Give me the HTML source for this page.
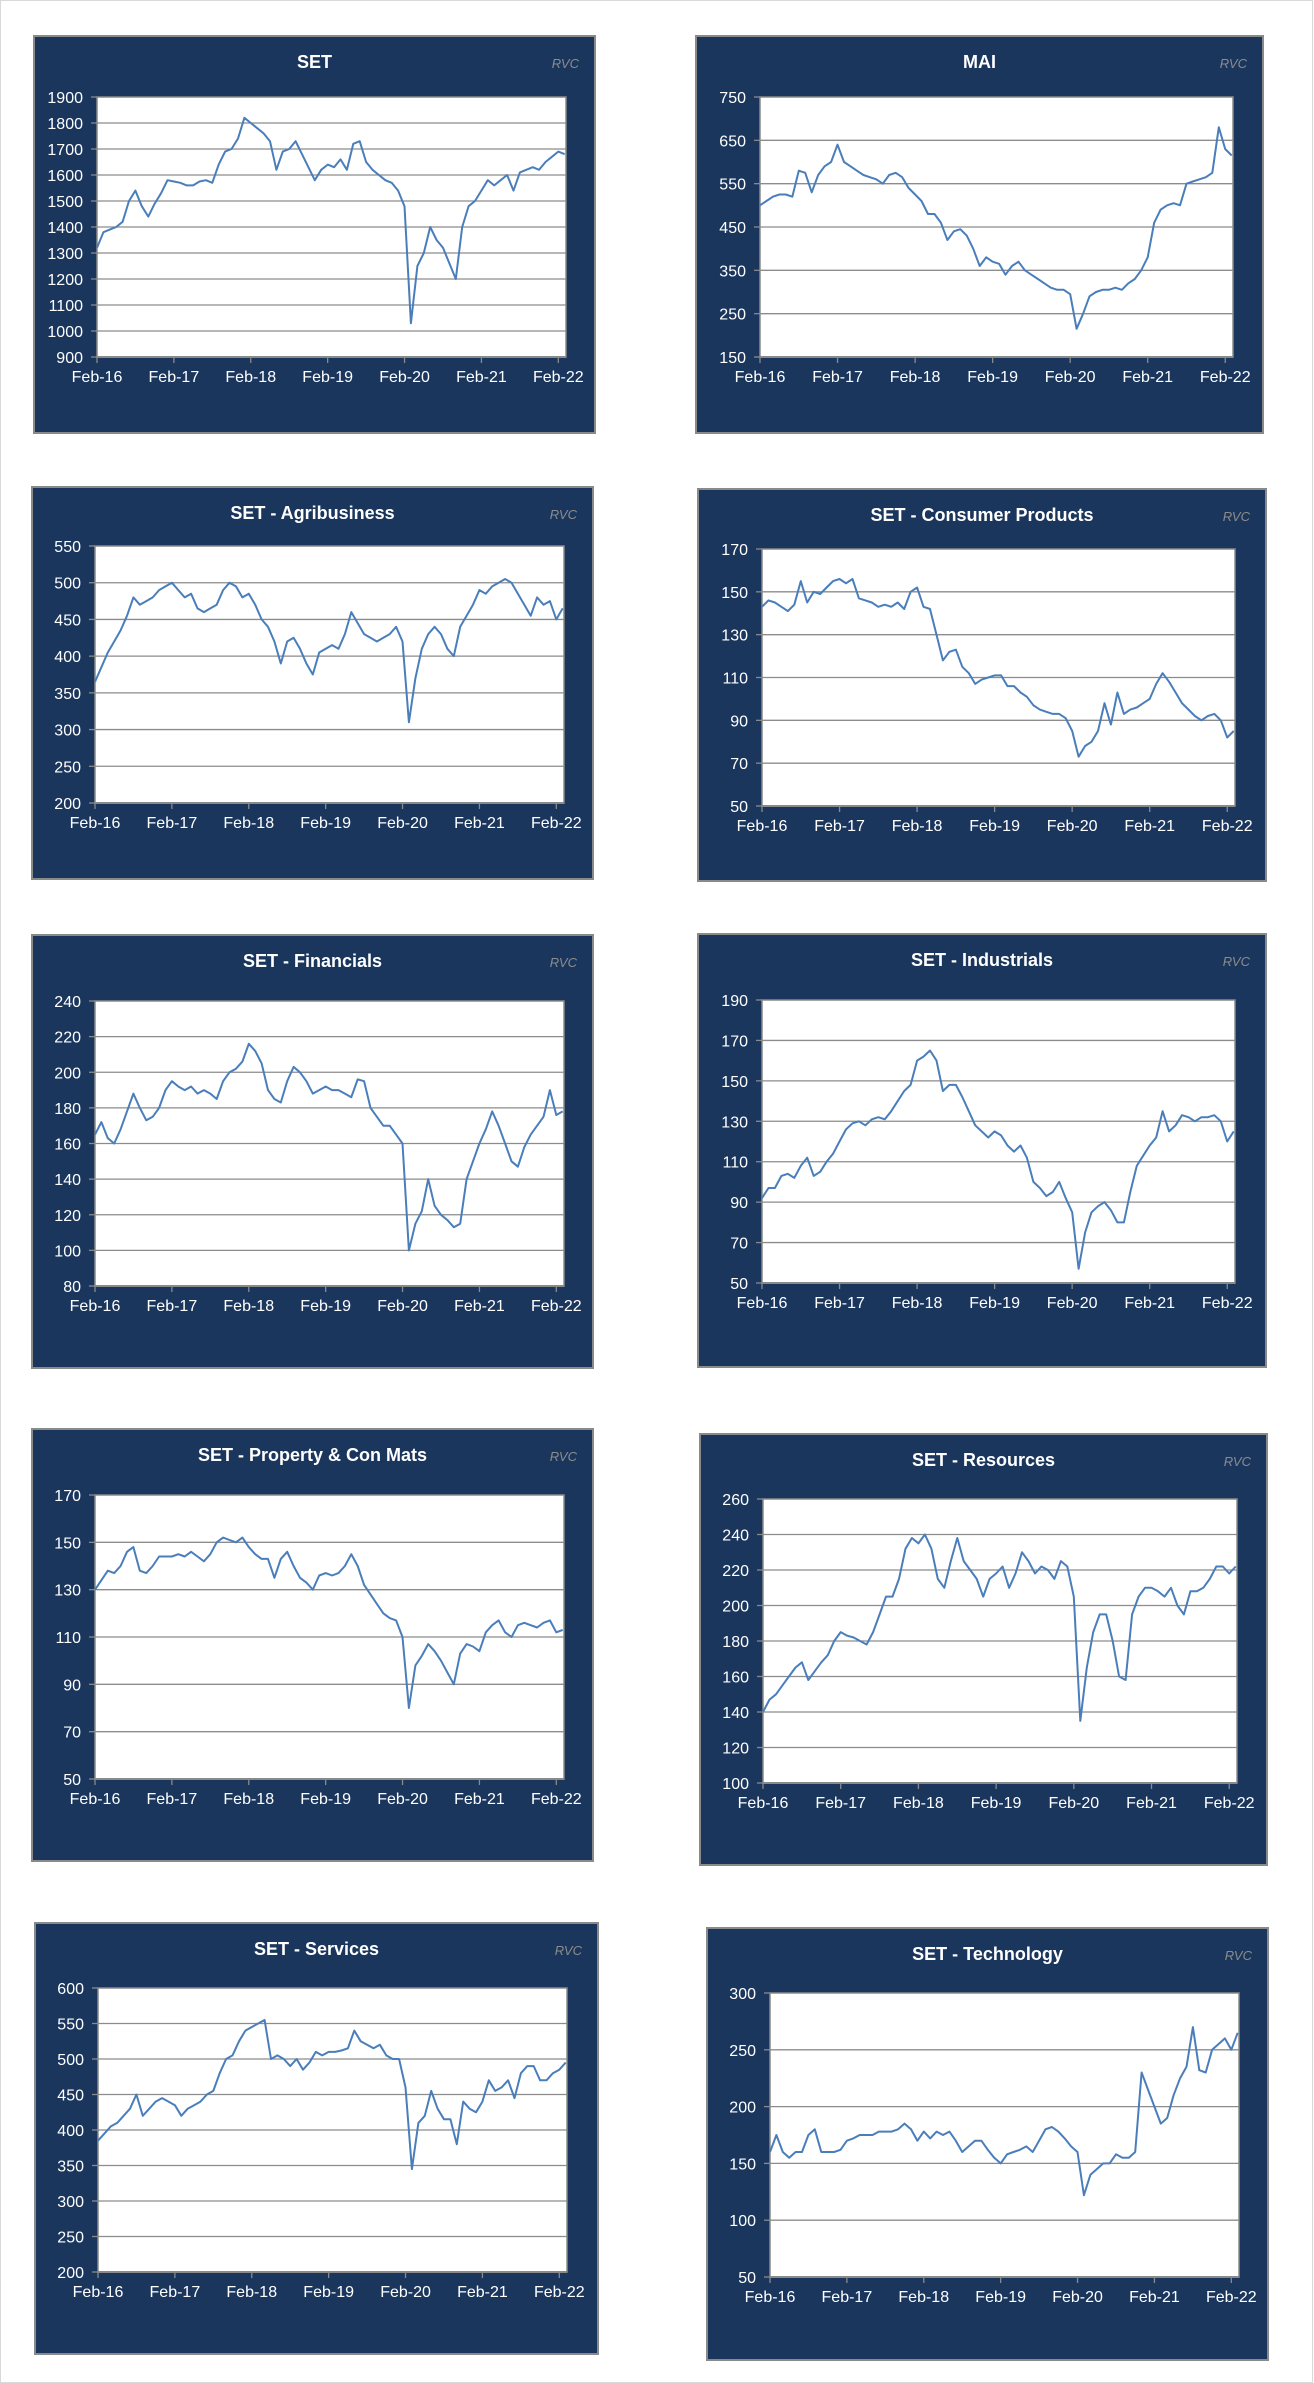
<!DOCTYPE html>
<html><head><meta charset="utf-8"><title>SET sector indices</title>
<style>
html,body{margin:0;padding:0;background:#fff;}
svg{display:block;font-family:"Liberation Sans",Arial,sans-serif;}
</style></head>
<body>
<svg id="page" width="1314" height="2383" viewBox="0 0 1314 2383" xmlns="http://www.w3.org/2000/svg">
<rect x="0.5" y="0.5" width="1312" height="2382" fill="#fff" stroke="#d9d9d9"/>
</svg>
<script>
// shared x categories: monthly from Feb-16 to Mar-22 (74 points)
const xTickLabels = ["Feb-16","Feb-17","Feb-18","Feb-19","Feb-20","Feb-21","Feb-22"];
const monthsCount = 74;

const setValues = [1320,1380,1390,1400,1420,1500,1540,1480,1440,1490,1530,
1580,1575,1570,1560,1560,1575,1580,1570,1640,1690,1700,1740,
1820,1800,1780,1760,1730,1620,1690,1700,1730,1680,1630,1580,
1620,1640,1630,1660,1620,1720,1730,1650,1620,1600,1580,1570,
1540,1480,1030,1250,1300,1400,1350,1320,1260,1200,1400,1480,
1500,1540,1580,1560,1580,1600,1540,1610,1620,1630,1620,1650,
1670,1690,1680];
const maiValues = [500,510,520,525,525,520,580,575,530,570,590,
600,640,600,590,580,570,565,560,550,570,575,565,
540,525,510,480,480,460,420,440,445,430,400,360,
380,370,365,340,360,370,350,340,330,320,310,305,
305,295,215,250,290,300,305,305,310,305,320,330,
350,380,460,490,500,505,500,550,555,560,565,575,
680,630,615];
const agriValues = [365,385,405,420,435,455,480,470,475,480,490,
495,500,490,480,485,465,460,465,470,490,500,495,
480,485,470,450,440,420,390,420,425,410,390,375,
405,410,415,410,430,460,445,430,425,420,425,430,
440,420,310,370,410,430,440,430,410,400,440,455,
470,490,485,495,500,505,500,485,470,455,480,470,
475,450,465];
const consumerValues = [143,146,145,143,141,144,155,145,150,149,152,
155,156,154,156,147,146,145,143,144,143,145,142,
150,152,143,142,130,118,122,123,115,112,107,109,
110,111,111,106,106,103,101,97,95,94,93,93,
91,85,73,78,80,85,98,88,103,93,95,96,
98,100,107,112,108,103,98,95,92,90,92,93,
90,82,85];
const financialsValues = [165,172,163,160,168,178,188,180,173,175,180,
190,195,192,190,192,188,190,188,185,195,200,202,
206,216,212,205,190,185,183,195,203,200,195,188,
190,192,190,190,188,186,196,195,180,175,170,170,
165,160,100,115,122,140,125,120,117,113,115,140,
150,160,168,178,170,160,150,147,158,165,170,175,
190,176,178];
const industrialsValues = [92,97,97,103,104,102,108,112,103,105,110,
114,120,126,129,130,128,131,132,131,135,140,145,
148,160,162,165,160,145,148,148,142,135,128,125,
122,125,123,118,115,118,112,100,97,93,95,100,
92,85,57,75,85,88,90,86,80,80,95,108,
113,118,122,135,125,128,133,132,130,132,132,133,
130,120,125];
const propertyValues = [130,134,138,137,140,146,148,138,137,140,144,
144,144,145,144,146,144,142,145,150,152,151,150,
152,148,145,143,143,135,143,146,140,135,133,130,
136,137,136,137,140,145,140,132,128,124,120,118,
117,110,80,98,102,107,104,100,95,90,103,107,
106,104,112,115,117,112,110,115,116,115,114,116,
117,112,113];
const resourcesValues = [140,147,150,155,160,165,168,158,163,168,172,
180,185,183,182,180,178,185,195,205,205,215,232,
238,235,240,232,215,210,225,238,225,220,215,205,
215,218,222,210,218,230,225,218,222,220,215,225,
222,205,135,165,185,195,195,180,160,158,195,205,
210,210,208,205,210,200,195,208,208,210,215,222,
222,218,222];
const servicesValues = [385,395,405,410,420,430,450,420,430,440,445,
440,435,420,430,435,440,450,455,480,500,505,525,
540,545,550,555,500,505,500,490,500,485,495,510,
505,510,510,512,515,540,525,520,515,520,505,500,
500,460,345,410,420,455,430,415,415,380,440,430,
425,440,470,455,460,470,445,480,490,490,470,470,
480,485,495];
const technologyValues = [160,175,160,155,160,160,175,180,160,160,160,
162,170,172,175,175,175,178,178,178,180,185,180,
170,178,172,178,175,178,170,160,165,170,170,162,
155,150,158,160,162,165,160,170,180,182,178,172,
165,160,122,140,145,150,150,158,155,155,160,230,
215,200,185,190,210,225,235,270,232,230,250,255,
260,250,265];

const setTicks = [900,1000,1100,1200,1300,1400,1500,1600,1700,1800,1900];
const maiTicks = [150,250,350,450,550,650,750];
const agriTicks = [200,250,300,350,400,450,500,550];
const consumerTicks = [50,70,90,110,130,150,170];
const financialsTicks = [80,100,120,140,160,180,200,220,240];
const industrialsTicks = [50,70,90,110,130,150,170,190];
const propertyTicks = [50,70,90,110,130,150,170];
const resourcesTicks = [100,120,140,160,180,200,220,240,260];
const servicesTicks = [200,250,300,350,400,450,500,550,600];
const technologyTicks = [50,100,150,200,250,300];

const NS = "http://www.w3.org/2000/svg";
const svg = document.getElementById("page");
function mk(tag, attrs, parent){
  const e = document.createElementNS(NS, tag);
  for (const k in attrs) e.setAttribute(k, attrs[k]);
  (parent||svg).appendChild(e);
  return e;
}

function drawChart(name, title, values, ticks, panel, plot){
  const g = mk("g", {});
  
  
  const bg = mk("rect", {x:panel[0], y:panel[1], width:panel[2]-panel[0], height:panel[3]-panel[1], fill:"#1a365d", stroke:"#8a8a8a", "stroke-width":2}, g);
  
  
  const cx = (panel[0]+panel[2])/2;
  const t = mk("text", {x:cx, y:panel[1]+32, fill:"#fff", "font-size":18, "font-weight":"bold", "text-anchor":"middle"}, g);
  t.textContent = title;
  
  
  const r = mk("text", {x:panel[2]-16, y:panel[1]+32, fill:"#8c8c8c", "font-size":13, "font-style":"italic", "text-anchor":"end"}, g);
  r.textContent = "RVC";
  
  

  const [L,T,R,B] = plot;
  const pa = mk("rect", {x:L, y:T, width:R-L, height:B-T, fill:"#fff", stroke:"#8a8a8a", "stroke-width":1.5}, g);
  
  

  const ymin = ticks[0], ymax = ticks[ticks.length-1];
  const yScale = v => B - (v - ymin)/(ymax - ymin)*(B - T);
  const yearW = (R - L) / 6.1;
  const xScale = m => L + (m/12)*yearW;

  ticks.forEach(v => {
    const y = yScale(v);
    if (v !== ymin && v !== ymax) {
      const gl = mk("line", {x1:L, y1:y, x2:R, y2:y, stroke:"#8c8c8c", "stroke-width":1.3}, g);
      
      
    }
    const tk = mk("line", {x1:L-6, y1:y, x2:L, y2:y, stroke:"#8a8a8a", "stroke-width":1.3}, g);
    
    
    const lb = mk("text", {x:L-14, y:y+6, fill:"#fff", "font-size":16, "text-anchor":"end"}, g);
    lb.textContent = v;
    
    
  });
  const ax = mk("line", {x1:L, y1:B, x2:R, y2:B, stroke:"#8a8a8a", "stroke-width":2}, g);
  
  
  xTickLabels.forEach((lab, i) => {
    const x = xScale(i*12);
    const tk = mk("line", {x1:x, y1:B, x2:x, y2:B+6, stroke:"#8a8a8a", "stroke-width":1.3}, g);
    
    
    const lb = mk("text", {x:x, y:B+25, fill:"#fff", "font-size":16, "text-anchor":"middle"}, g);
    lb.textContent = lab;
    
    
  });
  let d = "";
  values.forEach((v, i) => { d += (i ? "L" : "M") + xScale(i).toFixed(1) + "," + yScale(v).toFixed(1); });
  const p = mk("path", {d:d, fill:"none", stroke:"#4a7ebb", "stroke-width":2, "stroke-linejoin":"round"}, g);
  
  
}

drawChart("set", "SET", setValues, setTicks, [34,36,595,433], [97,97,566,357]);
drawChart("mai", "MAI", maiValues, maiTicks, [696,36,1263,433], [760,97,1233,357]);
drawChart("agribusiness", "SET - Agribusiness", agriValues, agriTicks, [32,487,593,879], [95,546,564,803]);
drawChart("consumer-products", "SET - Consumer Products", consumerValues, consumerTicks, [698,489,1266,881], [762,549,1235,806]);
drawChart("financials", "SET - Financials", financialsValues, financialsTicks, [32,935,593,1368], [95,1001,564,1286]);
drawChart("industrials", "SET - Industrials", industrialsValues, industrialsTicks, [698,934,1266,1367], [762,1000,1235,1283]);
drawChart("property", "SET - Property & Con Mats", propertyValues, propertyTicks, [32,1429,593,1861], [95,1495,564,1779]);
drawChart("resources", "SET - Resources", resourcesValues, resourcesTicks, [700,1434,1267,1865], [763,1499,1237,1783]);
drawChart("services", "SET - Services", servicesValues, servicesTicks, [35,1923,598,2354], [98,1988,567,2272]);
drawChart("technology", "SET - Technology", technologyValues, technologyTicks, [707,1928,1268,2360], [770,1993,1239,2277]);
</script>
</body></html>
